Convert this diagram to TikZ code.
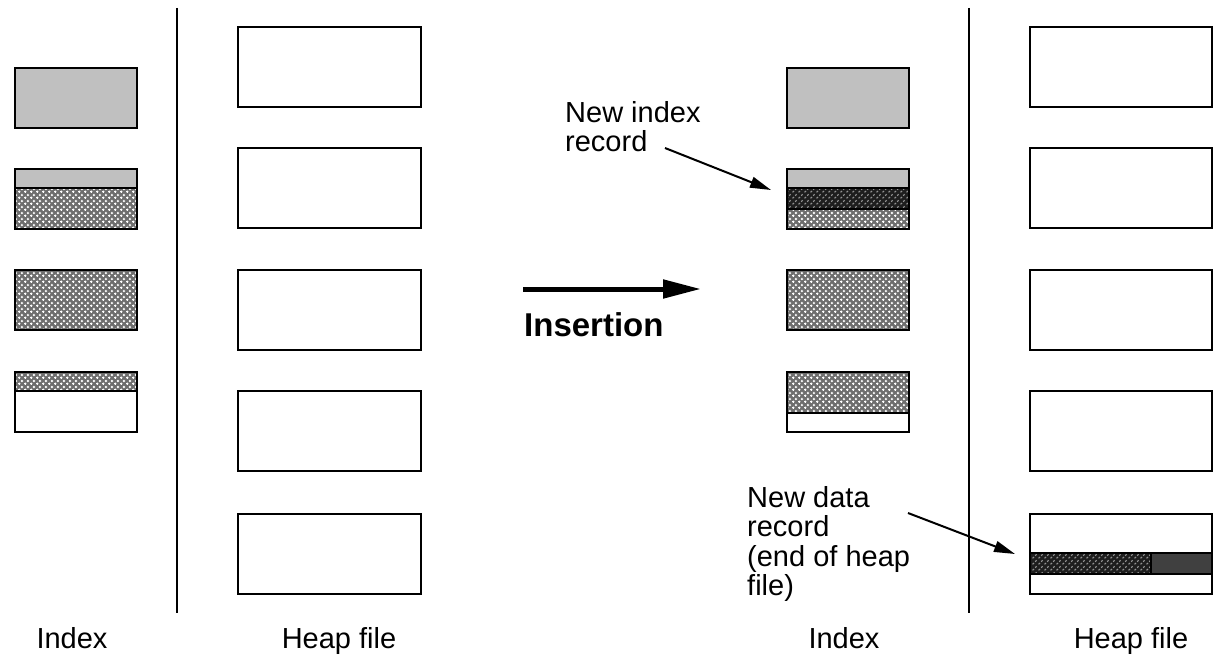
\documentclass[tikz,border=0pt]{standalone}
\usepackage{fontspec}
\setmainfont{Liberation Sans}
\usetikzlibrary{arrows.meta,patterns}

% light mesh: white plus signs on a diagonal lattice
\pgfdeclarepatternformonly{lightmesh}{\pgfpointorigin}{\pgfpoint{6pt}{6pt}}{\pgfpoint{6pt}{6pt}}{%
  \pgfpathrectangle{\pgfpoint{0.2pt}{0.9pt}}{\pgfpoint{2.6pt}{1.2pt}}%
  \pgfpathrectangle{\pgfpoint{0.9pt}{0.2pt}}{\pgfpoint{1.2pt}{2.6pt}}%
  \pgfpathrectangle{\pgfpoint{3.2pt}{3.9pt}}{\pgfpoint{2.6pt}{1.2pt}}%
  \pgfpathrectangle{\pgfpoint{3.9pt}{3.2pt}}{\pgfpoint{1.2pt}{2.6pt}}%
  \pgfusepath{fill}}

% dark mesh: short light strokes on a dark ground
\pgfdeclarepatternformonly{darkmesh}{\pgfpointorigin}{\pgfpoint{6pt}{6pt}}{\pgfpoint{6pt}{6pt}}{%
  \pgfsetlinewidth{1.3pt}%
  \pgfpathmoveto{\pgfpoint{0.6pt}{0.8pt}}\pgfpathlineto{\pgfpoint{2.4pt}{2.2pt}}%
  \pgfpathmoveto{\pgfpoint{3.6pt}{3.8pt}}\pgfpathlineto{\pgfpoint{5.4pt}{5.2pt}}%
  \pgfusepath{stroke}}

\definecolor{boxgray}{HTML}{C0C0C0}
\definecolor{meshgray}{HTML}{6E6E6E}
\definecolor{meshdark}{HTML}{1E1E1E}
\definecolor{slate}{HTML}{404040}

\tikzset{
  rec/.style={draw=black, line width=2pt},
  divider/.style={draw=black, line width=2.5pt},
  light/.style={fill=meshgray, postaction={pattern=lightmesh, pattern color=white}},
  dark/.style={fill=meshdark, postaction={pattern=darkmesh, pattern color=gray!85}},
  pointer/.style={line width=2pt, -{Triangle[length=21pt,width=11pt]}},
  lbl/.style={inner sep=0pt, font=\fontsize{29}{29.5}\selectfont},
}

\begin{document}
\begin{tikzpicture}[x=1pt,y=-1pt]
\useasboundingbox (0,0) rectangle (1220,655);

% ---------- before insertion: index ----------
\filldraw[rec, fill=boxgray] (15,68) rectangle (137,128);
\fill[boxgray] (15,169) rectangle (137,188);
\fill[light] (15,188) rectangle (137,229);
\draw[rec] (15,169) rectangle (137,229) (15,188) -- (137,188);
\fill[light] (15,270) rectangle (137,330);
\draw[rec] (15,270) rectangle (137,330);
\fill[light] (15,372) rectangle (137,391);
\draw[rec] (15,372) rectangle (137,432) (15,391) -- (137,391);

\draw[divider] (177,8) -- (177,613);

% ---------- before insertion: heap file ----------
\foreach \t in {27,148,270,391,514}
  \draw[rec] (238,\t) rectangle (421,\t+80);

% ---------- insertion arrow ----------
\coordinate (insA) at (523,289);
\coordinate (insB) at (701,289);
\draw[line width=5pt, -{Triangle[length=38pt,width=18pt]}] (insA) -- (insB);
\node[lbl, anchor=base west, font=\fontsize{33}{34}\selectfont\bfseries] (ins) at (524,336) {Insertion};

% ---------- after insertion: index ----------
\filldraw[rec, fill=boxgray] (787,68) rectangle (909,128);
\fill[boxgray] (787,169) rectangle (909,188);
\fill[dark] (787,188) rectangle (909,209);
\fill[light] (787,209) rectangle (909,229);
\draw[rec] (787,169) rectangle (909,229) (787,188) -- (909,188) (787,209) -- (909,209);
\fill[light] (787,270) rectangle (909,330);
\draw[rec] (787,270) rectangle (909,330);
\fill[light] (787,372) rectangle (909,413);
\draw[rec] (787,372) rectangle (909,432) (787,413) -- (909,413);

\draw[divider] (969,8) -- (969,613);

% ---------- after insertion: heap file ----------
\foreach \t in {27,148,270,391}
  \draw[rec] (1030,\t) rectangle (1212,\t+80);
\fill[dark] (1030,553) rectangle (1151,574);
\fill[slate] (1151,553) rectangle (1212,574);
\draw[rec] (1030,514) rectangle (1212,594)
  (1030,553) -- (1212,553) (1030,574) -- (1212,574) (1151,553) -- (1151,574);

% ---------- annotations ----------
\node[lbl, anchor=north west, align=left] (newidx) at (565,101) {New index\\record};
\coordinate (idxFrom) at (665,148);
\coordinate (idxTo) at (771,190);
\draw[pointer] (idxFrom) -- (idxTo);

\node[lbl, anchor=north west, align=left] (newdata) at (747,486) {New data\\record\\(end of heap\\file)};
\coordinate (dataFrom) at (908,513);
\coordinate (dataTo) at (1015,554);
\draw[pointer] (dataFrom) -- (dataTo);

% ---------- captions ----------
\node[lbl, anchor=base] (capIdxA) at (72,648) {Index};
\node[lbl, anchor=base] (capHeapA) at (339,648) {Heap file};
\node[lbl, anchor=base] (capIdxB) at (844,648) {Index};
\node[lbl, anchor=base] (capHeapB) at (1131,648) {Heap file};
\end{tikzpicture}
\end{document}
